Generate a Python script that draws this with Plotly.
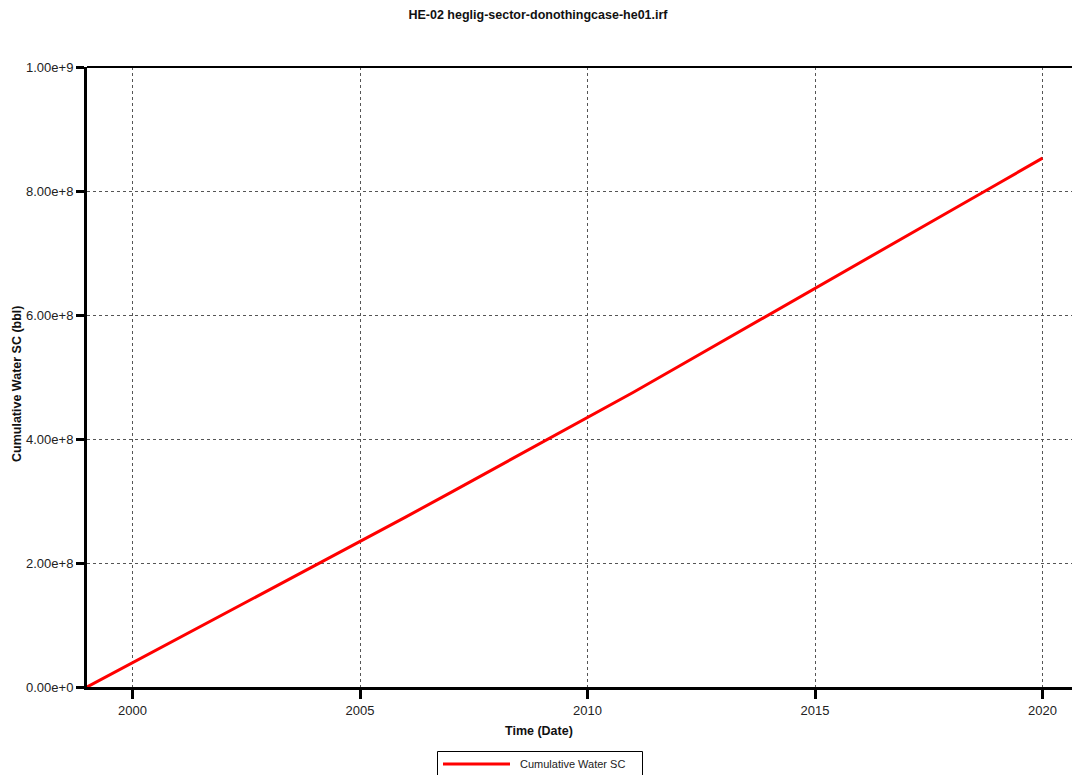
import plotly.graph_objects as go

dates = ["1999-01-01", "2000-01-01", "2001-01-01", "2002-01-01", "2003-01-01",
         "2004-01-01", "2005-01-01", "2006-01-01", "2007-01-01", "2008-01-01",
         "2009-01-01", "2010-01-01", "2011-01-01", "2012-01-01", "2013-01-01",
         "2014-01-01", "2015-01-01", "2016-01-01", "2017-01-01", "2018-01-01",
         "2019-01-01", "2020-01-01"]
cum_water = [0.0, 0.039e9, 0.078e9, 0.117e9, 0.157e9, 0.196e9, 0.235e9, 0.274e9,
             0.314e9, 0.354e9, 0.394e9, 0.434e9, 0.475e9, 0.517e9, 0.559e9,
             0.600e9, 0.642e9, 0.685e9, 0.727e9, 0.769e9, 0.811e9, 0.853e9]

y_ticks = [0, 2e8, 4e8, 6e8, 8e8, 1e9]
y_ticklabels = ["0.00e+0", "2.00e+8", "4.00e+8", "6.00e+8", "8.00e+8", "1.00e+9"]
x_ticks = ["2000-01-01", "2005-01-01", "2010-01-01", "2015-01-01", "2020-01-01"]
x_ticklabels = ["2000", "2005", "2010", "2015", "2020"]
series_name = "Cumulative Water SC"

FONT = "Liberation Sans, Arial, sans-serif"
W, H = 1072, 775
L, R, T, B = 87, 0, 67, 88
PW, PH = W - L - R, H - T - B


def px(xp):
    return (xp - L) / PW


def py(yp):
    return (H - B - yp) / PH


fig = go.Figure()
fig.add_trace(go.Scatter(x=dates, y=cum_water, mode="lines",
                         name=series_name, showlegend=False,
                         line=dict(color="#ff0000", width=3)))

fig.update_layout(
    width=W, height=H,
    margin=dict(l=L, r=R, t=T, b=B),
    paper_bgcolor="white", plot_bgcolor="white",
    font=dict(family=FONT, size=13, color="#222222"),
    title=dict(text="<b>HE-02 heglig-sector-donothingcase-he01.irf</b>",
               x=538 / W, xref="container", xanchor="center",
               y=1 - 15 / H, yref="container", yanchor="middle",
               font=dict(family=FONT, size=12.5, color="#111111")),
    showlegend=False,
)

fig.update_xaxes(
    type="date", range=["1999-01-01", "2020-08-25"],
    tickvals=x_ticks, ticktext=x_ticklabels, tickfont=dict(size=13),
    showline=True, linecolor="black", linewidth=3,
    ticks="outside", ticklen=9, tickwidth=3, tickcolor="black",
    showgrid=True, gridcolor="#555555", gridwidth=1, griddash="3px,3px",
    zeroline=False,
)
fig.update_yaxes(
    range=[0, 1e9], tickvals=y_ticks, ticktext=y_ticklabels, tickfont=dict(size=13),
    showline=True, linecolor="black", linewidth=3,
    ticks="outside", ticklen=8, tickwidth=3, tickcolor="black",
    showgrid=True, gridcolor="#555555", gridwidth=1, griddash="3px,3px",
    zeroline=False,
)

# top frame line
fig.add_shape(type="line", xref="paper", yref="paper", x0=0, x1=1, y0=1, y1=1,
              line=dict(color="black", width=2))

fig.add_annotation(text="<b>Time (Date)</b>", xref="paper", yref="paper",
                   x=px(539), y=py(731), showarrow=False,
                   xanchor="center", yanchor="middle",
                   font=dict(size=12.5, color="#111111"))
fig.add_annotation(text="<b>Cumulative Water SC (bbl)</b>", xref="paper", yref="paper",
                   x=px(17), y=py(384), showarrow=False,
                   textangle=-90, xanchor="center", yanchor="middle",
                   font=dict(size=12.5, color="#111111"))

# legend box (drawn below the plot)
fig.add_shape(type="rect", xref="paper", yref="paper",
              x0=px(437.5), x1=px(642.5), y0=py(751.5), y1=py(800),
              line=dict(color="black", width=1), fillcolor="white", layer="above")
fig.add_shape(type="line", xref="paper", yref="paper",
              x0=px(443), x1=px(510), y0=py(764), y1=py(764),
              line=dict(color="#ff0000", width=3))
fig.add_annotation(text=series_name, xref="paper", yref="paper",
                   x=px(518), y=py(764), showarrow=False,
                   xanchor="left", yanchor="middle",
                   font=dict(size=11, color="#222222"))

fig.write_html("out.html",
               config={"displayModeBar": False},
               post_script="document.body.style.margin='0';document.body.style.overflow='hidden';")
